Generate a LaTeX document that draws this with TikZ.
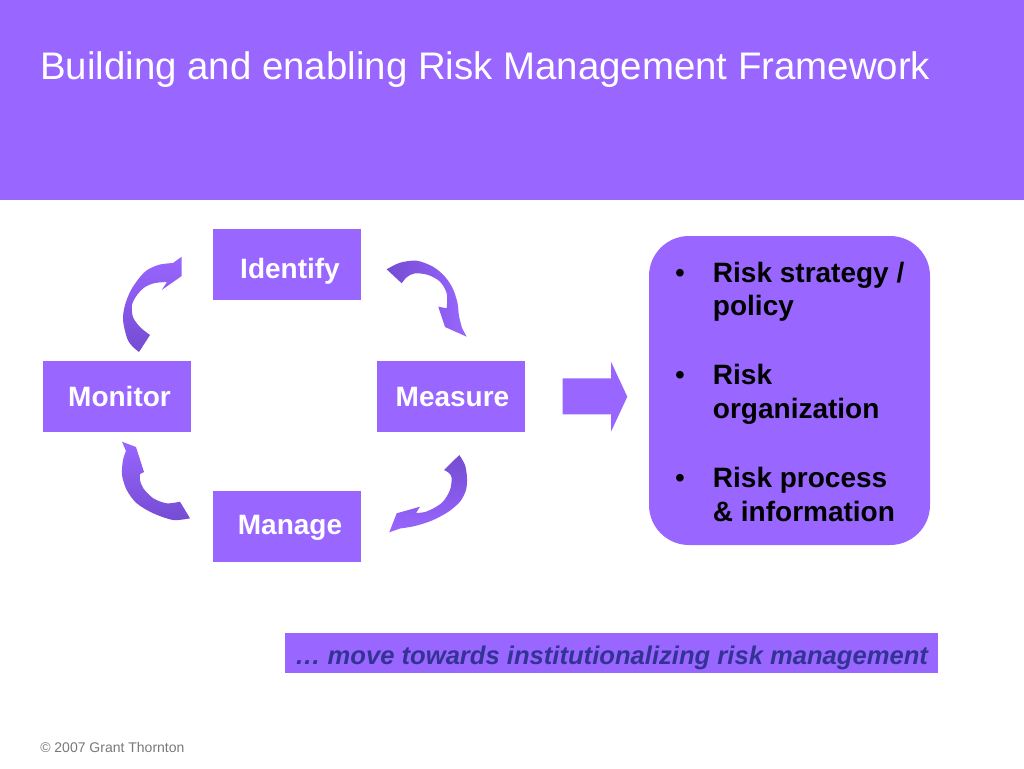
\documentclass[tikz,border=0pt]{standalone}
\usepackage{fontspec}
\setmainfont{Liberation Sans}
\definecolor{pur}{RGB}{153,102,255}
\definecolor{purdark}{RGB}{116,76,210}
\definecolor{navy}{RGB}{51,51,150}
\definecolor{foot}{RGB}{120,120,120}
\begin{document}
\begin{tikzpicture}[x=0.75pt,y=-0.75pt,
  stepbox/.style={fill=pur, minimum width=111pt, minimum height=53.25pt, inner sep=0pt,
    text=white, text height=15pt, text depth=0pt, font=\fontsize{21}{25}\selectfont\bfseries},
  itemline/.style={anchor=base west, inner sep=0pt, font=\fontsize{21}{25}\selectfont\bfseries},
  bulletdot/.style={anchor=base, inner sep=0pt, font=\fontsize{21}{25}\selectfont},
  cyclearrow/.style={draw=none}]
\useasboundingbox (0,0) rectangle (1024,768);
% header
\node[fill=pur, minimum width=768pt, minimum height=150pt, inner sep=0pt, anchor=north west] (header) at (0,0) {};
\node[anchor=base west, inner sep=0pt, text=white, font=\fontsize{28.8}{34}\selectfont] (title) at (40,79)
  {Building and enabling Risk Management Framework};
% cycle boxes
\node[stepbox] (identify) at (287,264) {\hspace*{4.5pt}\raisebox{-3pt}{Identify}};
\node[stepbox] (monitor) at (116.5,396.5) {\hspace*{4.5pt}Monitor};
\node[stepbox] (measure) at (450.5,396.5) {\hspace*{3pt}Measure};
\node[stepbox] (manage) at (287,526) {\hspace*{4.5pt}\raisebox{1pt}{Manage}};
% curved arrows
\shade[cyclearrow, top color=pur, bottom color=purdark]
 (139,352) -- (150,335)
 -- plot[smooth] coordinates {(150,335) (140,327) (133,317) (132,305) (137,295) (145,287) (155,283) (167,282)}
 -- (161.7,290) -- (181.7,276) -- (181.7,256.7) -- (173,263)
 -- plot[smooth] coordinates {(173,263) (160,264.5) (148,269.5) (140,277) (131,290) (125,305) (123,320) (127,338) (132,346) (139,352)}
 -- cycle;
\shade[cyclearrow, left color=purdark, right color=pur]
 (386.7,269.3)
 -- plot[smooth] coordinates {(386.7,269.3) (400,262.7) (416.7,260.7) (433,266.7) (445,276.7) (453,289) (457.5,303) (459,316) (462,328)}
 -- (466.7,336.7) -- (445,327) -- (438.3,306.7) -- (446.7,308.3)
 -- plot[smooth] coordinates {(446.7,308.3) (446.7,293.3) (440,281.7) (428.3,275) (415,273.3) (407,277) (401.7,283.3)}
 -- cycle;
\shade[cyclearrow, top color=purdark, bottom color=pur]
 (444,470) -- (459.3,455)
 -- plot[smooth] coordinates {(459.3,455) (465,465) (467,478) (466,490) (460,501.7) (448,512) (432,520.5) (415,526) (400,528.5)}
 -- (389.3,532.3) -- (396.7,513.3) -- (420,506.7) -- (416,513)
 -- plot[smooth] coordinates {(416,513) (425,512) (434,508) (443,501.7) (450,490) (451.7,478) (449,473) (444,470)}
 -- cycle;
\shade[cyclearrow, top color=pur, bottom color=purdark]
 (122,441.7) -- (136,447) -- (144,472) -- (140,474)
 -- plot[smooth] coordinates {(140,474) (140,480) (143.3,488.3) (153.3,498.3) (166.7,503.3) (180,501.7)}
 -- (190,518.3)
 -- plot[smooth] coordinates {(190,518.3) (173.3,520) (153.3,513.3) (136.7,503.3) (126.7,490) (122,475) (123,460) (126,451)}
 -- cycle;
% big arrow
\fill[pur] (562.7,378.3) -- (611,378.3) -- (611,361.7) -- (627.3,396.7) -- (611,431.7) -- (611,414.3) -- (562.7,414.3) -- cycle;
% right box
\node[fill=pur, rounded corners=30pt, minimum width=210.75pt, minimum height=231.75pt, inner sep=0pt] (pillars) at (789.5,390.5) {};
\node[bulletdot] (b1) at (680,282) {•};
\node[itemline] (l1) at (712.7,282) {Risk strategy /};
\node[itemline] (l2) at (712.7,315) {policy};
\node[bulletdot] (b2) at (680,384) {•};
\node[itemline] (l3) at (712.7,384) {Risk};
\node[itemline] (l4) at (712.7,418) {organization};
\node[bulletdot] (b3) at (680,487) {•};
\node[itemline] (l5) at (712.7,487) {Risk process};
\node[itemline] (l6) at (712.7,521) {\& information};
% banner
\node[fill=pur, minimum width=489.75pt, minimum height=30pt, inner sep=0pt, text=navy,
  text height=16.5pt, text depth=0pt,
  font=\fontsize{19.2}{22}\selectfont\bfseries\itshape] (banner) at (611.5,653)
  {… move towards institutionalizing risk management};
% footer
\node[anchor=base west, inner sep=0pt, text=foot, font=\fontsize{10.5}{12}\selectfont] (copy) at (40,752)
  {© 2007 Grant Thornton};
\end{tikzpicture}
\end{document}
